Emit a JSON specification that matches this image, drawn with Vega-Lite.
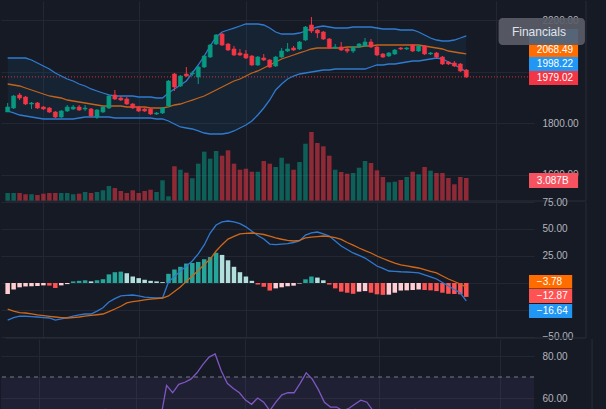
{
"$schema":"https://vega.github.io/schema/vega-lite/v6.json",
"background":"#161a25",
"padding":0,
"autosize":{"type":"pad"},
"bounds":"flush",
"spacing":1,
"config":{"view":{"stroke":null},"axis":{"domain":false,"ticks":false,"gridColor":"#232733","labelColor":"#b2b5be","labelFont":"Liberation Sans","labelFontSize":10,"labelPadding":8,"labelOverlap":false},"text":{"font":"Liberation Sans"}},
"datasets":{
"d":[
{"i":0,"o":1842.7,"h":1877.7,"l":1842.7,"c":1862.2,"v":1.07,"up":2052.4,"mid":1951.5,"lo":1846.6,"m":-34.3,"s":-24.1,"hs":-10.2,"hc":"nu","r":42},
{"i":1,"o":1858.3,"h":1908.8,"l":1854.4,"c":1904.9,"v":1.07,"up":2052.4,"mid":1947.6,"lo":1838.9,"m":-32,"s":-26,"hs":-6,"hc":"nu","r":44},
{"i":2,"o":1908.8,"h":1916.5,"l":1889.3,"c":1897.1,"v":1.07,"up":2052.4,"mid":1943.7,"lo":1831.1,"m":-30.6,"s":-27.5,"hs":-4,"hc":"nu","r":43},
{"i":3,"o":1901.0,"h":1904.9,"l":1869.9,"c":1873.8,"v":0.9,"up":2052.4,"mid":1935.9,"lo":1827.2,"m":-30.8,"s":-27.8,"hs":-3.2,"hc":"nu","r":41},
{"i":4,"o":1873.8,"h":1881.6,"l":1854.4,"c":1877.7,"v":0.9,"up":2044.7,"mid":1928.2,"lo":1823.3,"m":-31.2,"s":-28.5,"hs":-3,"hc":"nu","r":42},
{"i":5,"o":1877.7,"h":1881.6,"l":1854.4,"c":1858.3,"v":0.81,"up":2033.0,"mid":1920.4,"lo":1819.4,"m":-31.5,"s":-29.6,"hs":-2.8,"hc":"nu","r":40},
{"i":6,"o":1862.2,"h":1866.0,"l":1850.5,"c":1854.4,"v":0.98,"up":2021.4,"mid":1912.6,"lo":1815.6,"m":-32,"s":-30.3,"hs":-2.2,"hc":"nu","r":39},
{"i":7,"o":1858.3,"h":1862.2,"l":1838.9,"c":1842.7,"v":1.07,"up":2009.7,"mid":1904.9,"lo":1815.6,"m":-32.4,"s":-30.9,"hs":-2.4,"hc":"nd","r":38},
{"i":8,"o":1842.7,"h":1846.6,"l":1819.4,"c":1823.3,"v":1.07,"up":1994.2,"mid":1901.0,"lo":1815.6,"m":-34.3,"s":-31.5,"hs":-4.6,"hc":"nd","r":36},
{"i":9,"o":1823.3,"h":1850.5,"l":1819.4,"c":1846.6,"v":1.07,"up":1982.5,"mid":1897.1,"lo":1815.6,"m":-33.3,"s":-32,"hs":-2.2,"hc":"nu","r":39},
{"i":10,"o":1846.6,"h":1869.9,"l":1842.7,"c":1862.2,"v":1.07,"up":1970.9,"mid":1889.3,"lo":1815.6,"m":-32,"s":-32.4,"hs":-1,"hc":"nu","r":41},
{"i":11,"o":1854.4,"h":1869.9,"l":1850.5,"c":1862.2,"v":0.9,"up":1963.1,"mid":1885.5,"lo":1815.6,"m":-30.6,"s":-32,"hs":1.5,"hc":"pu","r":42},
{"i":12,"o":1862.2,"h":1869.9,"l":1846.6,"c":1850.5,"v":0.98,"up":1951.5,"mid":1881.6,"lo":1819.4,"m":-29.5,"s":-31.5,"hs":2,"hc":"pu","r":41},
{"i":13,"o":1854.4,"h":1869.9,"l":1846.6,"c":1858.3,"v":1.21,"up":1943.7,"mid":1877.7,"lo":1823.3,"m":-28.7,"s":-30.6,"hs":2.5,"hc":"pu","r":42},
{"i":14,"o":1854.4,"h":1858.3,"l":1823.3,"c":1827.2,"v":1.07,"up":1932.1,"mid":1873.8,"lo":1823.3,"m":-28.7,"s":-30,"hs":1.5,"hc":"pd","r":40},
{"i":15,"o":1823.3,"h":1854.4,"l":1815.6,"c":1850.5,"v":1.21,"up":1924.3,"mid":1869.9,"lo":1823.3,"m":-26,"s":-29.4,"hs":2.5,"hc":"pu","r":41},
{"i":16,"o":1842.7,"h":1866.0,"l":1838.9,"c":1862.2,"v":1.44,"up":1916.5,"mid":1866.0,"lo":1823.3,"m":-23,"s":-28.7,"hs":3.5,"hc":"pu","r":48},
{"i":17,"o":1858.3,"h":1908.8,"l":1854.4,"c":1904.9,"v":2.01,"up":1908.8,"mid":1866.0,"lo":1823.3,"m":-17.6,"s":-26.5,"hs":8,"hc":"pu","r":54.5},
{"i":18,"o":1908.8,"h":1928.2,"l":1889.3,"c":1893.2,"v":1.74,"up":1904.9,"mid":1866.0,"lo":1819.4,"m":-14.5,"s":-24.1,"hs":10,"hc":"pu","r":52},
{"i":19,"o":1897.1,"h":1904.9,"l":1885.5,"c":1889.3,"v":1.34,"up":1904.9,"mid":1866.0,"lo":1819.4,"m":-12,"s":-21.5,"hs":10.5,"hc":"pu","r":51},
{"i":20,"o":1893.2,"h":1901.0,"l":1869.9,"c":1873.8,"v":1.07,"up":1904.9,"mid":1862.2,"lo":1819.4,"m":-11.5,"s":-18.5,"hs":9,"hc":"pd","r":49},
{"i":21,"o":1873.8,"h":1877.7,"l":1854.4,"c":1858.3,"v":1.44,"up":1904.9,"mid":1862.2,"lo":1819.4,"m":-11.1,"s":-17.3,"hs":6,"hc":"pd","r":47},
{"i":22,"o":1862.2,"h":1866.0,"l":1842.7,"c":1846.6,"v":1.07,"up":1901.0,"mid":1862.2,"lo":1819.4,"m":-12,"s":-16.5,"hs":4.5,"hc":"pd","r":45},
{"i":23,"o":1854.4,"h":1858.3,"l":1842.7,"c":1846.6,"v":1.34,"up":1901.0,"mid":1862.2,"lo":1819.4,"m":-13,"s":-15.7,"hs":3,"hc":"pd","r":45},
{"i":24,"o":1854.4,"h":1858.3,"l":1831.1,"c":1835.0,"v":1.52,"up":1901.0,"mid":1858.3,"lo":1819.4,"m":-13.5,"s":-15,"hs":2,"hc":"pd","r":43},
{"i":25,"o":1835.0,"h":1842.7,"l":1831.1,"c":1838.9,"v":1.21,"up":1897.1,"mid":1858.3,"lo":1815.6,"m":-13.9,"s":-14.4,"hs":1.5,"hc":"pd","r":45},
{"i":26,"o":1838.9,"h":1862.2,"l":1835.0,"c":1858.3,"v":2.78,"up":1897.1,"mid":1858.3,"lo":1815.6,"m":-13.9,"s":-13.9,"hs":0.8,"hc":"pd","r":50},
{"i":27,"o":1866.0,"h":1967.0,"l":1862.2,"c":1963.1,"v":0.63,"up":1916.5,"mid":1862.2,"lo":1807.8,"m":1,"s":-12,"hs":8.5,"hc":"pu","r":66},
{"i":28,"o":1990.3,"h":1994.2,"l":1924.3,"c":1939.8,"v":4.66,"up":1932.1,"mid":1869.9,"lo":1796.1,"m":6,"s":-7.8,"hs":12.5,"hc":"pu","r":62.5},
{"i":29,"o":1943.7,"h":1986.4,"l":1939.8,"c":1982.5,"v":4.2,"up":1947.6,"mid":1873.8,"lo":1784.5,"m":11.1,"s":-3.7,"hs":15,"hc":"pu","r":66.5},
{"i":30,"o":1990.3,"h":2017.5,"l":1978.7,"c":1982.5,"v":3.8,"up":1963.1,"mid":1881.6,"lo":1780.6,"m":15.5,"s":1.5,"hs":18,"hc":"pu","r":67.5},
{"i":31,"o":1990.3,"h":2002.0,"l":1982.5,"c":1994.2,"v":3.05,"up":1994.2,"mid":1889.3,"lo":1776.7,"m":20.4,"s":6.5,"hs":18.5,"hc":"pu","r":69},
{"i":32,"o":1978.7,"h":2021.4,"l":1951.5,"c":2017.5,"v":5.01,"up":2025.3,"mid":1897.1,"lo":1769.0,"m":27,"s":11.5,"hs":19.5,"hc":"pu","r":72},
{"i":33,"o":2017.5,"h":2064.1,"l":2013.6,"c":2060.2,"v":6.62,"up":2060.2,"mid":1904.9,"lo":1761.2,"m":35.2,"s":17,"hs":22,"hc":"pu","r":76},
{"i":34,"o":2056.3,"h":2106.8,"l":2052.4,"c":2102.9,"v":5.68,"up":2099.0,"mid":1916.5,"lo":1757.3,"m":46.3,"s":22.2,"hs":24,"hc":"pu","r":79.5},
{"i":35,"o":2106.8,"h":2145.6,"l":2102.9,"c":2141.8,"v":6.71,"up":2134.0,"mid":1928.2,"lo":1757.3,"m":53.7,"s":29.6,"hs":28,"hc":"pu","r":81},
{"i":36,"o":2145.6,"h":2149.5,"l":2099.0,"c":2102.9,"v":6.08,"up":2153.4,"mid":1939.8,"lo":1757.3,"m":56.5,"s":35.5,"hs":26,"hc":"pd","r":73},
{"i":37,"o":2106.8,"h":2110.7,"l":2079.6,"c":2083.5,"v":6.8,"up":2161.2,"mid":1951.5,"lo":1761.2,"m":57.4,"s":40.7,"hs":21,"hc":"pd","r":67},
{"i":38,"o":2087.4,"h":2099.0,"l":2060.2,"c":2064.1,"v":5.01,"up":2168.9,"mid":1963.1,"lo":1769.0,"m":56.5,"s":43.2,"hs":15,"hc":"pd","r":64.5},
{"i":39,"o":2071.9,"h":2087.4,"l":2060.2,"c":2064.1,"v":4.2,"up":2176.7,"mid":1970.9,"lo":1780.6,"m":55,"s":45.4,"hs":10,"hc":"pd","r":62.5},
{"i":40,"o":2068.0,"h":2083.5,"l":2048.6,"c":2052.4,"v":4.33,"up":2184.5,"mid":1982.5,"lo":1792.2,"m":52,"s":46,"hs":6,"hc":"pd","r":59},
{"i":41,"o":2060.2,"h":2064.1,"l":2021.4,"c":2025.3,"v":3.93,"up":2184.5,"mid":1994.2,"lo":1807.8,"m":48,"s":46.3,"hs":2,"hc":"pd","r":57},
{"i":42,"o":2025.3,"h":2060.2,"l":2021.4,"c":2056.3,"v":3.93,"up":2184.5,"mid":2002.0,"lo":1831.1,"m":44,"s":45.8,"hs":-1.5,"hc":"nd","r":60},
{"i":43,"o":2052.4,"h":2068.0,"l":2040.8,"c":2044.7,"v":5.37,"up":2180.6,"mid":2013.6,"lo":1858.3,"m":40.7,"s":44.9,"hs":-3.5,"hc":"nd","r":58},
{"i":44,"o":2044.7,"h":2048.6,"l":2013.6,"c":2017.5,"v":5.01,"up":2168.9,"mid":2025.3,"lo":1889.3,"m":36,"s":43.3,"hs":-7,"hc":"nd","r":54},
{"i":45,"o":2021.4,"h":2060.2,"l":2017.5,"c":2056.3,"v":4.56,"up":2153.4,"mid":2036.9,"lo":1928.2,"m":35.5,"s":41.7,"hs":-5,"hc":"nu","r":58},
{"i":46,"o":2056.3,"h":2091.3,"l":2052.4,"c":2079.6,"v":5.81,"up":2145.6,"mid":2048.6,"lo":1951.5,"m":36,"s":40.5,"hs":-4,"hc":"nu","r":61.5},
{"i":47,"o":2079.6,"h":2110.7,"l":2075.7,"c":2087.4,"v":5.01,"up":2145.6,"mid":2056.3,"lo":1970.9,"m":36.5,"s":39.5,"hs":-3,"hc":"nu","r":62.5},
{"i":48,"o":2091.3,"h":2099.0,"l":2079.6,"c":2083.5,"v":4.2,"up":2145.6,"mid":2064.1,"lo":1982.5,"m":37.5,"s":38.9,"hs":-2.5,"hc":"nu","r":62.5},
{"i":49,"o":2087.4,"h":2118.5,"l":2083.5,"c":2114.6,"v":5.23,"up":2149.5,"mid":2071.9,"lo":1990.3,"m":38.9,"s":39.5,"hs":-0.5,"hc":"nu","r":67},
{"i":50,"o":2122.3,"h":2176.7,"l":2118.5,"c":2172.8,"v":7.69,"up":2157.3,"mid":2079.6,"lo":1994.2,"m":44.4,"s":41.7,"hs":3.4,"hc":"pu","r":72},
{"i":51,"o":2180.6,"h":2211.7,"l":2149.5,"c":2157.3,"v":9.26,"up":2165.1,"mid":2087.4,"lo":1998.1,"m":46.5,"s":42.5,"hs":6,"hc":"pu","r":69},
{"i":52,"o":2161.2,"h":2165.1,"l":2130.1,"c":2149.5,"v":7.78,"up":2172.8,"mid":2091.3,"lo":2002.0,"m":47.2,"s":43,"hs":5,"hc":"pd","r":64},
{"i":53,"o":2153.4,"h":2157.3,"l":2122.3,"c":2126.2,"v":7.34,"up":2176.7,"mid":2091.3,"lo":2005.8,"m":45.5,"s":43.5,"hs":2.5,"hc":"pd","r":58},
{"i":54,"o":2126.2,"h":2130.1,"l":2087.4,"c":2091.3,"v":6.08,"up":2172.8,"mid":2091.3,"lo":2005.8,"m":43.5,"s":43,"hs":-1.5,"hc":"nd","r":55.7},
{"i":55,"o":2091.3,"h":2106.8,"l":2087.4,"c":2095.2,"v":4.2,"up":2168.9,"mid":2091.3,"lo":2009.7,"m":39,"s":42,"hs":-5,"hc":"nd","r":55.7},
{"i":56,"o":2095.2,"h":2114.6,"l":2079.6,"c":2083.5,"v":3.89,"up":2168.9,"mid":2091.3,"lo":2009.7,"m":34.3,"s":40.3,"hs":-8,"hc":"nd","r":54},
{"i":57,"o":2087.4,"h":2091.3,"l":2071.9,"c":2079.6,"v":3.66,"up":2168.9,"mid":2095.2,"lo":2009.7,"m":31,"s":37.5,"hs":-9,"hc":"nd","r":55},
{"i":58,"o":2079.6,"h":2099.0,"l":2071.9,"c":2095.2,"v":3.76,"up":2172.8,"mid":2095.2,"lo":2009.7,"m":27.8,"s":35,"hs":-10,"hc":"nd","r":57},
{"i":59,"o":2095.2,"h":2110.7,"l":2091.3,"c":2106.8,"v":4.47,"up":2172.8,"mid":2095.2,"lo":2009.7,"m":25.5,"s":32.4,"hs":-8,"hc":"nu","r":59},
{"i":60,"o":2099.0,"h":2130.1,"l":2095.2,"c":2114.6,"v":5.37,"up":2172.8,"mid":2099.0,"lo":2009.7,"m":23.1,"s":30,"hs":-7.5,"hc":"nu","r":58},
{"i":61,"o":2114.6,"h":2126.2,"l":2091.3,"c":2095.2,"v":5.1,"up":2172.8,"mid":2099.0,"lo":2017.5,"m":19.5,"s":27.8,"hs":-9,"hc":"nd","r":54},
{"i":62,"o":2095.2,"h":2099.0,"l":2060.2,"c":2064.1,"v":4.12,"up":2168.9,"mid":2102.9,"lo":2025.3,"m":15.7,"s":25,"hs":-10.5,"hc":"nd","r":50},
{"i":63,"o":2068.0,"h":2071.9,"l":2052.4,"c":2056.3,"v":3.22,"up":2165.1,"mid":2102.9,"lo":2025.3,"m":13.5,"s":22.7,"hs":-11,"hc":"nd","r":48},
{"i":64,"o":2060.2,"h":2075.7,"l":2056.3,"c":2071.9,"v":2.51,"up":2165.1,"mid":2102.9,"lo":2029.1,"m":11.1,"s":20.5,"hs":-10.8,"hc":"nu","r":50},
{"i":65,"o":2068.0,"h":2087.4,"l":2064.1,"c":2083.5,"v":2.59,"up":2165.1,"mid":2102.9,"lo":2029.1,"m":10.8,"s":18.5,"hs":-9,"hc":"nu","r":52},
{"i":66,"o":2091.3,"h":2095.2,"l":2083.5,"c":2087.4,"v":2.82,"up":2161.2,"mid":2102.9,"lo":2033.0,"m":10.4,"s":16.7,"hs":-7,"hc":"nu","r":51},
{"i":67,"o":2087.4,"h":2095.2,"l":2083.5,"c":2091.3,"v":3.22,"up":2161.2,"mid":2102.9,"lo":2036.9,"m":10.2,"s":15.8,"hs":-6.8,"hc":"nu","r":53},
{"i":68,"o":2102.9,"h":2106.8,"l":2075.7,"c":2079.6,"v":3.93,"up":2161.2,"mid":2102.9,"lo":2040.8,"m":9.8,"s":14.8,"hs":-6.5,"hc":"nu","r":54.5},
{"i":69,"o":2079.6,"h":2102.9,"l":2075.7,"c":2099.0,"v":3.58,"up":2153.4,"mid":2102.9,"lo":2040.8,"m":9.3,"s":13.9,"hs":-6,"hc":"nu","r":52},
{"i":70,"o":2099.0,"h":2102.9,"l":2064.1,"c":2068.0,"v":4.56,"up":2141.8,"mid":2099.0,"lo":2044.7,"m":7.5,"s":12.3,"hs":-6.5,"hc":"nd","r":49},
{"i":71,"o":2068.0,"h":2075.7,"l":2064.1,"c":2071.9,"v":4.07,"up":2130.1,"mid":2095.2,"lo":2048.6,"m":5.6,"s":10.8,"hs":-6.8,"hc":"nd","r":50},
{"i":72,"o":2071.9,"h":2075.7,"l":2052.4,"c":2056.3,"v":3.76,"up":2122.3,"mid":2091.3,"lo":2052.4,"m":3.7,"s":9.3,"hs":-7.5,"hc":"nd","r":47},
{"i":73,"o":2056.3,"h":2060.2,"l":2025.3,"c":2029.1,"v":3.76,"up":2118.5,"mid":2087.4,"lo":2048.6,"m":0.5,"s":6.5,"hs":-9,"hc":"nd","r":44},
{"i":74,"o":2036.9,"h":2040.8,"l":2025.3,"c":2029.1,"v":3.09,"up":2118.5,"mid":2079.6,"lo":2036.9,"m":-2.8,"s":3.7,"hs":-10,"hc":"nd","r":43},
{"i":75,"o":2033.0,"h":2040.8,"l":2017.5,"c":2021.4,"v":2.24,"up":2122.3,"mid":2075.7,"lo":2025.3,"m":-6,"s":1.4,"hs":-10.2,"hc":"nd","r":42},
{"i":76,"o":2029.1,"h":2033.0,"l":1998.1,"c":2002.0,"v":3.22,"up":2130.1,"mid":2071.9,"lo":2013.6,"m":-9.3,"s":-0.9,"hs":-10.5,"hc":"nd","r":40},
{"i":77,"o":2005.8,"h":2009.7,"l":1974.8,"c":1979.02,"v":3.087,"up":2138.77,"mid":2068.49,"lo":1998.22,"m":-16.64,"s":-3.78,"hs":-12.87,"hc":"nd","r":37}
],
"one":[{"t":"Financials"}],
"tags":[
{"t":"2138.77","k":"bb","top":2165.1,"bot":2110.7,"mid":2137.9,"show":false},
{"t":"2068.49","k":"ma","top":2110.7,"bot":2056.3,"mid":2083.5,"show":true},
{"t":"1998.22","k":"bb","top":2056.3,"bot":2002.0,"mid":2029.1,"show":true},
{"t":"1979.02","k":"last","top":2002.0,"bot":1947.6,"mid":1974.8,"show":true},
{"t":"3.087B","k":"vol","top":1605.9,"bot":1547.6,"mid":1576.7,"show":true}
],
"mtags":[
{"t":"−3.78","k":"sig","top":7.4,"bot":-5.1,"mid":0.9},
{"t":"−12.87","k":"hist","top":-5.6,"bot":-18.5,"mid":-12.0},
{"t":"−16.64","k":"macd","top":-19.4,"bot":-32.4,"mid":-25.9}
]
},
"vconcat":[
{
"width":533,"height":200,
"data":{"name":"d"},
"resolve":{"scale":{"y":"independent"}},
"layer":[
{"mark":{"type":"bar","width":4.5,"opacity":0.55},
"encoding":{"x":{"field":"i","type":"quantitative","title":null,"scale":{"domain":[-0.28,87.53],"nice":false,"zero":false},"axis":{"values":[6,22,40,62,82],"labels":false,"grid":true}},
"y":{"field":"v","type":"quantitative","title":null,"scale":{"domain":[0,26.84],"nice":false},"axis":null},
"color":{"condition":{"test":"datum.c >= datum.o","value":"#089981"},"value":"#f23645"}}},
{"layer":[
{"mark":{"type":"area","color":"#2196f3","opacity":0.07},
"encoding":{"x":{"field":"i","type":"quantitative","title":null},
"y":{"field":"up","type":"quantitative","title":null,"scale":{"domain":[1497.1,2273.8],"nice":false,"zero":false},"axis":{"orient":"right","values":[1600,1800,2000,2200],"format":".2f","grid":true,"labelExpr":"datum.value == 2000 ? '' : datum.label"}},
"y2":{"field":"lo"}}},
{"transform":[{"filter":"datum.i == 77"}],"mark":{"type":"rule","color":"#f23645","strokeDash":[1,2],"opacity":0.85},
"encoding":{"y":{"field":"c","type":"quantitative","title":null,"axis":{"orient":"right","values":[1600,1800,2000,2200],"format":".2f","grid":true,"labelExpr":"datum.value == 2000 ? '' : datum.label"}}}},
{"mark":{"type":"line","color":"#2e7bcf","strokeWidth":1.3},"encoding":{"x":{"field":"i","type":"quantitative","title":null},"y":{"field":"up","type":"quantitative","title":null,"axis":{"orient":"right","values":[1600,1800,2000,2200],"format":".2f","grid":true,"labelExpr":"datum.value == 2000 ? '' : datum.label"}}}},
{"mark":{"type":"line","color":"#2e7bcf","strokeWidth":1.3},"encoding":{"x":{"field":"i","type":"quantitative","title":null},"y":{"field":"lo","type":"quantitative","title":null,"axis":{"orient":"right","values":[1600,1800,2000,2200],"format":".2f","grid":true,"labelExpr":"datum.value == 2000 ? '' : datum.label"}}}},
{"mark":{"type":"line","color":"#c4631a","strokeWidth":1.3},"encoding":{"x":{"field":"i","type":"quantitative","title":null},"y":{"field":"mid","type":"quantitative","title":null,"axis":{"orient":"right","values":[1600,1800,2000,2200],"format":".2f","grid":true,"labelExpr":"datum.value == 2000 ? '' : datum.label"}}}},
{"mark":{"type":"rule","strokeWidth":1},"encoding":{"x":{"field":"i","type":"quantitative","title":null},"y":{"field":"l","type":"quantitative","title":null,"axis":{"orient":"right","values":[1600,1800,2000,2200],"format":".2f","grid":true,"labelExpr":"datum.value == 2000 ? '' : datum.label"}},"y2":{"field":"h"},
"color":{"condition":{"test":"datum.c >= datum.o","value":"#089981"},"value":"#f23645"}}},
{"mark":{"type":"bar","width":4,"strokeWidth":0.6},"encoding":{"x":{"field":"i","type":"quantitative","title":null},"y":{"field":"o","type":"quantitative","title":null,"axis":{"orient":"right","values":[1600,1800,2000,2200],"format":".2f","grid":true,"labelExpr":"datum.value == 2000 ? '' : datum.label"}},"y2":{"field":"c"},
"fill":{"condition":{"test":"datum.c >= datum.o","value":"#089981"},"value":"#f23645"},
"stroke":{"condition":{"test":"datum.c >= datum.o","value":"#089981"},"value":"#f23645"}}},
{"data":{"name":"one"},"mark":{"type":"rect","color":"#161a25"},"encoding":{"x":{"datum":97.2},"x2":{"datum":99.7}}},
{"data":{"name":"one"},"mark":{"type":"rule","color":"#2a2e39"},"encoding":{"x":{"datum":97.1}}},
{"data":{"name":"one"},"mark":{"type":"rule","color":"#2a2e39"},"encoding":{"x":{"datum":-0.28},"x2":{"datum":97.1},"y":{"datum":1497.1,"axis":{"orient":"right","values":[1600,1800,2000,2200],"format":".2f","grid":true,"labelExpr":"datum.value == 2000 ? '' : datum.label"}}}},
{"data":{"name":"tags"},"mark":{"type":"rect"},"encoding":{"x":{"datum":87.53},"x2":{"datum":95.77},"y":{"field":"top","type":"quantitative","title":null,"axis":{"orient":"right","values":[1600,1800,2000,2200],"format":".2f","grid":true,"labelExpr":"datum.value == 2000 ? '' : datum.label"}},"y2":{"field":"bot"},
"color":{"condition":[{"test":"datum.k=='ma'","value":"#ff6d00"},{"test":"datum.k=='last'","value":"#f23645"},{"test":"datum.k=='vol'","value":"#f7525f"}],"value":"#2196f3"}}},
{"data":{"name":"tags"},"transform":[{"filter":"datum.show"}],"mark":{"type":"text","align":"left","baseline":"middle","color":"#ffffff","fontSize":10},"encoding":{"x":{"datum":88.85},"y":{"field":"mid","type":"quantitative","title":null,"axis":{"orient":"right","values":[1600,1800,2000,2200],"format":".2f","grid":true,"labelExpr":"datum.value == 2000 ? '' : datum.label"}},"text":{"field":"t"}}},
{"data":{"name":"one"},"mark":{"type":"rect","color":"#5b5e68","opacity":0.9,"cornerRadius":4},"encoding":{"x":{"datum":82.42},"x2":{"datum":96.92},"y":{"datum":2207.8,"axis":{"orient":"right","values":[1600,1800,2000,2200],"format":".2f","grid":true,"labelExpr":"datum.value == 2000 ? '' : datum.label"}},"y2":{"datum":2102.9}}},
{"data":{"name":"one"},"mark":{"type":"text","align":"center","baseline":"middle","color":"#e1e3ea","fontSize":12},"encoding":{"x":{"datum":89.2},"y":{"datum":2153.4,"axis":{"orient":"right","values":[1600,1800,2000,2200],"format":".2f","grid":true,"labelExpr":"datum.value == 2000 ? '' : datum.label"}},"text":{"field":"t"}}}
]}
]
},
{
"width":533,"height":136,
"data":{"name":"d"},
"layer":[
{"mark":{"type":"bar","width":4.5},"encoding":{"x":{"field":"i","type":"quantitative","title":null,"scale":{"domain":[-0.28,87.53],"nice":false,"zero":false},"axis":{"values":[6,22,40,62,82],"labels":false,"grid":true}},
"y":{"field":"hs","type":"quantitative","title":null,"scale":{"domain":[-50.93,75],"nice":false,"zero":false},"axis":{"orient":"right","values":[-50,-25,0,25,50,75],"format":".2f","grid":true,"labelExpr":"(datum.value == 0 || datum.value == -25) ? '' : datum.label"}},
"y2":{"datum":0},
"color":{"condition":[{"test":"datum.hc=='pu'","value":"#26a69a"},{"test":"datum.hc=='pd'","value":"#b2dfdb"},{"test":"datum.hc=='nd'","value":"#ff5252"}],"value":"#ffcdd2"}}},
{"mark":{"type":"line","color":"#2f7ad0","strokeWidth":1.3},"encoding":{"x":{"field":"i","type":"quantitative","title":null},"y":{"field":"m","type":"quantitative","title":null,"axis":{"orient":"right","values":[-50,-25,0,25,50,75],"format":".2f","grid":true,"labelExpr":"(datum.value == 0 || datum.value == -25) ? '' : datum.label"}}}},
{"mark":{"type":"line","color":"#d0681a","strokeWidth":1.3},"encoding":{"x":{"field":"i","type":"quantitative","title":null},"y":{"field":"s","type":"quantitative","title":null,"axis":{"orient":"right","values":[-50,-25,0,25,50,75],"format":".2f","grid":true,"labelExpr":"(datum.value == 0 || datum.value == -25) ? '' : datum.label"}}}},
{"data":{"name":"one"},"mark":{"type":"rect","color":"#161a25"},"encoding":{"x":{"datum":97.2},"x2":{"datum":99.7}}},
{"data":{"name":"one"},"mark":{"type":"rule","color":"#2a2e39"},"encoding":{"x":{"datum":97.1}}},
{"data":{"name":"one"},"mark":{"type":"rule","color":"#2a2e39"},"encoding":{"x":{"datum":-0.28},"x2":{"datum":97.1},"y":{"datum":-50.93,"axis":{"orient":"right","values":[-50,-25,0,25,50,75],"format":".2f","grid":true,"labelExpr":"(datum.value == 0 || datum.value == -25) ? '' : datum.label"}}}},
{"data":{"name":"mtags"},"mark":{"type":"rect"},"encoding":{"x":{"datum":87.53},"x2":{"datum":94.78},"y":{"field":"top","type":"quantitative","title":null,"axis":{"orient":"right","values":[-50,-25,0,25,50,75],"format":".2f","grid":true,"labelExpr":"(datum.value == 0 || datum.value == -25) ? '' : datum.label"}},"y2":{"field":"bot"},
"color":{"condition":[{"test":"datum.k=='sig'","value":"#ff6d00"},{"test":"datum.k=='hist'","value":"#ff5252"}],"value":"#2196f3"}}},
{"data":{"name":"mtags"},"mark":{"type":"text","align":"left","baseline":"middle","color":"#ffffff","fontSize":10},"encoding":{"x":{"datum":88.85},"y":{"field":"mid","type":"quantitative","title":null,"axis":{"orient":"right","values":[-50,-25,0,25,50,75],"format":".2f","grid":true,"labelExpr":"(datum.value == 0 || datum.value == -25) ? '' : datum.label"}},"text":{"field":"t"}}}
]
},
{
"width":533,"height":71,
"data":{"name":"d"},
"layer":[
{"data":{"name":"one"},"mark":{"type":"rect","color":"#7e57c2","opacity":0.1,"clip":true},"encoding":{"y":{"datum":70,"axis":{"orient":"right","values":[60,80],"format":".2f","grid":true}},"y2":{"datum":30}}},
{"data":{"name":"one"},"mark":{"type":"rule","color":"#787b86","strokeDash":[4,4]},"encoding":{"y":{"datum":70,"axis":{"orient":"right","values":[60,80],"format":".2f","grid":true}}}},
{"mark":{"type":"line","color":"#7e57c2","strokeWidth":1.3,"clip":true},"encoding":{"x":{"field":"i","type":"quantitative","title":null,"scale":{"domain":[-0.28,87.53],"nice":false,"zero":false},"axis":{"values":[6,22,40,62,82],"labels":false,"grid":true}},
"y":{"field":"r","type":"quantitative","title":null,"scale":{"domain":[54.29,88.1],"nice":false,"zero":false},"axis":{"orient":"right","values":[60,80],"format":".2f","grid":true}}}},
{"data":{"name":"one"},"mark":{"type":"rect","color":"#161a25"},"encoding":{"x":{"datum":97.2},"x2":{"datum":99.7}}},
{"data":{"name":"one"},"mark":{"type":"rule","color":"#2a2e39"},"encoding":{"x":{"datum":97.1}}}
]
}
]
}
